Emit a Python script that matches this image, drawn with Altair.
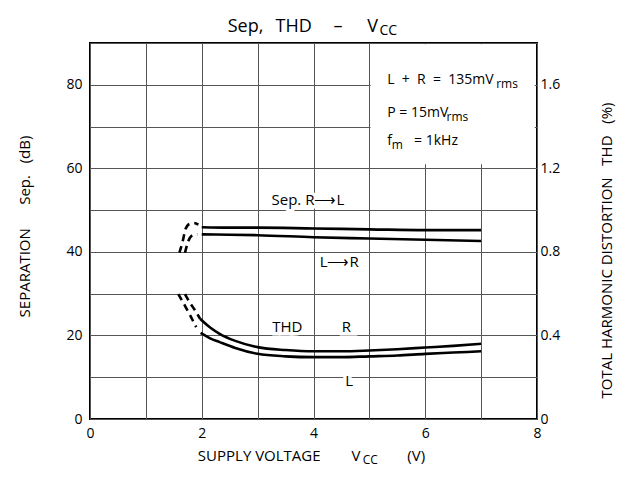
import altair as alt
import pandas as pd

FONT = "Open Sans"
NB = "\u00a0"

# ---------------- data ----------------
# Separation (dB), left axis
sep_rl_solid_v = [2.0, 2.5, 3.0, 4.0, 5.0, 6.0, 7.0]
sep_rl_solid_db = [45.9, 45.8, 45.8, 45.6, 45.4, 45.2, 45.2]
sep_lr_solid_v = [2.0, 2.5, 3.0, 4.0, 5.0, 6.0, 7.0]
sep_lr_solid_db = [44.2, 44.1, 44.0, 43.5, 43.2, 42.9, 42.6]
sep_rl_dash_v = [1.60, 1.66, 1.71, 1.78, 1.86, 1.94]
sep_rl_dash_db = [39.8, 42.6, 45.5, 46.7, 46.9, 46.5]
sep_lr_dash_v = [1.70, 1.76, 1.84, 1.92]
sep_lr_dash_db = [39.8, 42.6, 44.0, 44.2]

# THD (%), right axis
thd_r_dash_v = [1.70, 1.78, 1.87, 1.97]
thd_r_dash_pct = [0.598, 0.560, 0.524, 0.480]
thd_r_solid_v = [1.97, 2.15, 2.32, 2.6, 3.0, 3.5, 4.0, 4.5, 5.0, 5.5, 6.0, 6.5, 7.0]
thd_r_solid_pct = [0.480, 0.438, 0.408, 0.374, 0.344, 0.330, 0.324, 0.324, 0.328, 0.334, 0.342, 0.350, 0.360]
thd_l_dash_v = [1.58, 1.70, 1.80, 1.90]
thd_l_dash_pct = [0.598, 0.542, 0.492, 0.440]
thd_l_solid_v = [1.98, 2.15, 2.32, 2.6, 3.0, 3.5, 4.0, 4.5, 5.0, 5.5, 6.0, 6.5, 7.0]
thd_l_solid_pct = [0.412, 0.386, 0.368, 0.340, 0.312, 0.300, 0.296, 0.296, 0.300, 0.304, 0.312, 0.318, 0.324]

# curve labels (anchored in V / dB)
label_text = ["Sep." + NB + "R⟶L", "L⟶R", "THD", "R", "L"]
label_v = [3.9, 4.46, 3.53, 4.59, 4.64]
label_db = [52.4, 37.6, 22.1, 22.1, 9.0]

# conditions block (anchored in V / dB)
cond_main = ["L" + NB * 2 + "+" + NB * 2 + "R" + NB * 2 + "=" + NB * 2 + "135mV",
             "P" + NB + "=" + NB + "15mV", "f", "=" + NB + "1kHz"]
cond_main_v = [5.32, 5.32, 5.32, 5.80]
cond_main_db = [80.3, 72.4, 65.7, 65.7]
cond_sub = ["rms", "rms", "m"]
cond_sub_v = [7.27, 6.38, 5.40]
cond_sub_db = [80.3, 72.4, 65.7]

# white area behind the conditions block
box_v = [5.02]
box_v2 = [7.96]
box_db = [61.0]
box_db2 = [89.7]

# chart title words (anchored in V / dB)
title_words = ["Sep,", "THD", "–", "V"]
title_v = [2.464, 3.321, 4.357, 4.964]
title_db = [92.6, 92.6, 92.6, 92.6]
title_sub = ["CC"]
title_sub_v = [5.18]
title_sub_db = [92.6]

# x-axis title pieces (anchored in V / dB)
xt_words = ["SUPPLY" + NB + "VOLTAGE", "V", "(V)"]
xt_v = [1.93, 4.68, 5.68]
xt_db = [-10.0, -10.0, -10.0]
xt_sub = ["CC"]
xt_sub_v = [4.88]
xt_sub_db = [-10.0]


def curve(v, y, name):
    return pd.DataFrame({"v": v, "val": y, "curve": [name] * len(v), "k": list(range(len(v)))})


def texts(t, v, y):
    return pd.DataFrame({"v": v, "val": y, "t": t})


sep_solid = pd.concat([curve(sep_rl_solid_v, sep_rl_solid_db, "RL"),
                       curve(sep_lr_solid_v, sep_lr_solid_db, "LR")])
sep_dash = pd.concat([curve(sep_rl_dash_v, sep_rl_dash_db, "RL"),
                      curve(sep_lr_dash_v, sep_lr_dash_db, "LR")])
thd_solid = pd.concat([curve(thd_r_solid_v, thd_r_solid_pct, "R"),
                       curve(thd_l_solid_v, thd_l_solid_pct, "L")])
thd_dash = pd.concat([curve(thd_r_dash_v, thd_r_dash_pct, "R"),
                      curve(thd_l_dash_v, thd_l_dash_pct, "L")])
labels = texts(label_text, label_v, label_db)
cond = texts(cond_main, cond_main_v, cond_main_db)
cond_s = texts(cond_sub, cond_sub_v, cond_sub_db)
box = pd.DataFrame({"v": box_v, "v2": box_v2, "val": box_db, "val2": box_db2})
ttl = texts(title_words, title_v, title_db)
ttl_s = texts(title_sub, title_sub_v, title_sub_db)
xt = texts(xt_words, xt_v, xt_db)
xt_s = texts(xt_sub, xt_sub_v, xt_sub_db)

# ---------------- encodings ----------------
X = alt.X("v:Q", scale=alt.Scale(domain=[0, 8], nice=False),
          axis=alt.Axis(values=list(range(9)),
                        labelExpr="datum.value % 2 == 0 ? datum.label : ''",
                        title=None, grid=True, ticks=False, domain=False,
                        labelPadding=7, labelFlush=False, labelOverlap=False))
YSEP = alt.Y("val:Q", scale=alt.Scale(domain=[0, 90], nice=False),
             axis=alt.Axis(values=list(range(0, 91, 10)),
                           labelExpr="datum.value % 20 == 0 ? datum.label : ''",
                           title="SEPARATION" + NB * 6 + "Sep." + NB * 3 + "(dB)",
                           grid=True, ticks=False,
                           domain=False, labelPadding=8, labelFlush=False,
                           labelOverlap=False,
                           titleX=-66, titleY=183, titleAngle=270,
                           titleAlign="center", titleBaseline="middle"))
YTHD = alt.Y("val:Q", scale=alt.Scale(domain=[0, 1.8], nice=False),
             axis=alt.Axis(orient="right", values=[0, 0.4, 0.8, 1.2, 1.6],
                           labelExpr="datum.value == 0 ? '0' : format(datum.value, '.1f')",
                           title="TOTAL" + NB + "HARMONIC" + NB + "DISTORTION" + NB * 3
                                 + "THD" + NB * 3 + "(%)",
                           grid=False,
                           ticks=False, domain=False, labelPadding=3,
                           labelFlush=False, labelOverlap=False,
                           titleX=69, titleY=207, titleAngle=270,
                           titleAlign="center", titleBaseline="middle"))

LINE_W = 2.6
DASH = [7, 5]


def text_layer(df, size, align="left", dy=0, halo=False, baseline="alphabetic"):
    kw = dict(font=FONT, fontSize=size, align=align, baseline=baseline)
    if dy:
        kw["dy"] = dy
    if halo:
        kw.update(color="white", stroke="white", strokeWidth=7)
    else:
        kw.update(color="black")
    return alt.Chart(df).mark_text(**kw).encode(x=X, y=YSEP, text="t:N")


box_layer = alt.Chart(box).mark_rect(color="white").encode(
    x=X, x2="v2:Q", y=YSEP, y2="val2:Q")

sep_line = alt.Chart(sep_solid).mark_line(color="black", strokeWidth=LINE_W,
                                          interpolate="monotone").encode(
    x=X, y=YSEP, detail="curve:N", order="k:Q")
sep_dline = alt.Chart(sep_dash).mark_line(color="black", strokeWidth=LINE_W,
                                          strokeDash=DASH, interpolate="monotone").encode(
    x=X, y=YSEP, detail="curve:N", order="k:Q")

sep_group = alt.layer(
    box_layer,
    text_layer(labels, 15, align="center", halo=True, baseline="middle"),
    sep_line, sep_dline,
    text_layer(labels, 15, align="center", baseline="middle"),
    text_layer(cond, 14),
    text_layer(cond_s, 12, dy=4),
    text_layer(ttl, 18),
    text_layer(ttl_s, 14, dy=3),
    text_layer(xt, 15),
    text_layer(xt_s, 12, dy=3),
)

thd_line = alt.Chart(thd_solid).mark_line(color="black", strokeWidth=LINE_W,
                                          interpolate="monotone").encode(
    x=X, y=YTHD, detail="curve:N", order="k:Q")
thd_dline = alt.Chart(thd_dash).mark_line(color="black", strokeWidth=LINE_W,
                                          strokeDash=DASH, interpolate="monotone").encode(
    x=X, y=YTHD, detail="curve:N", order="k:Q")
thd_group = alt.layer(thd_line, thd_dline)

chart = alt.layer(sep_group, thd_group).resolve_scale(y="independent").properties(
    width=447, height=376,
    autosize=alt.AutoSizeParams(type="none"),
    padding={"left": 82, "top": 35, "right": 82, "bottom": 59},
).configure_view(
    stroke="black", strokeWidth=2
).configure_axis(
    labelFont=FONT, labelFontSize=14, labelColor="black",
    titleFont=FONT, titleFontSize=15, titleFontWeight="normal", titleColor="black",
    gridColor="#555555", gridWidth=1, gridOpacity=1,
)

chart.save("out.html", embed_options={"renderer": "svg", "actions": False})
